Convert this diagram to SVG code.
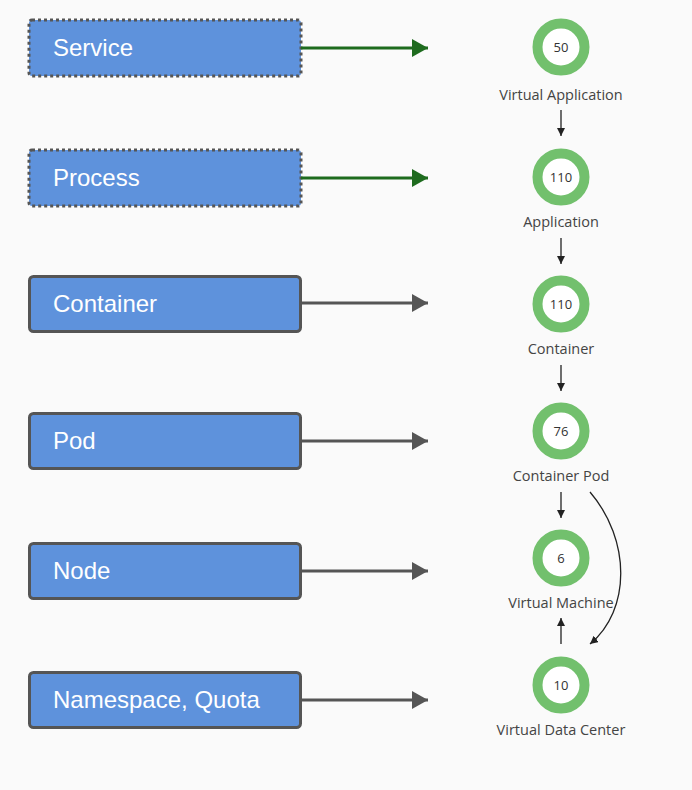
<svg xmlns="http://www.w3.org/2000/svg" width="692" height="790" viewBox="0 0 692 790">
<style>
.box{fill:#5e92dc;stroke:#555;stroke-width:3}
.dot{fill:#5e92dc;stroke:#555;stroke-width:3;stroke-dasharray:3 3}
.bt{font-family:"Liberation Sans",Arial,sans-serif;font-size:24px;fill:#fff}
.ring{fill:#fff;stroke:#72c06d;stroke-width:10}
.num{font-family:"Open Sans","DejaVu Sans",sans-serif;font-size:13px;fill:#333;text-anchor:middle}
.lbl{font-family:"Open Sans","DejaVu Sans",sans-serif;font-size:14.5px;fill:#444;text-anchor:middle}
.ga{stroke:#1e6b1e;stroke-width:3;fill:none}
.da{stroke:#555;stroke-width:3;fill:none}
.ta{stroke:#222;stroke-width:1.3;fill:none}
</style>
<defs>
<marker id="mg" markerWidth="16" markerHeight="18" refX="16" refY="9" orient="auto" markerUnits="userSpaceOnUse"><path d="M0,0 L16,9 L0,18 Z" fill="#1e6b1e"/></marker>
<marker id="md" markerWidth="16" markerHeight="18" refX="16" refY="9" orient="auto" markerUnits="userSpaceOnUse"><path d="M0,0 L16,9 L0,18 Z" fill="#555"/></marker>
<marker id="mt" markerWidth="8" markerHeight="8" refX="8" refY="4" orient="auto" markerUnits="userSpaceOnUse"><path d="M0,0 L8,4 L0,8 Z" fill="#222"/></marker>
</defs>
<rect width="692" height="790" fill="#fafafa"/>
<g id="service"><rect class="dot" x="29" y="20" width="272" height="56" rx="3"/><text class="bt" x="53" y="56">Service</text></g>
<g id="process"><rect class="dot" x="29" y="150" width="272" height="56" rx="3"/><text class="bt" x="53" y="186">Process</text></g>
<g id="container"><rect class="box" x="29.5" y="276.5" width="271" height="55" rx="4"/><text class="bt" x="53" y="312">Container</text></g>
<g id="pod"><rect class="box" x="29.5" y="413.5" width="271" height="55" rx="4"/><text class="bt" x="53" y="449">Pod</text></g>
<g id="node"><rect class="box" x="29.5" y="543.5" width="271" height="55" rx="4"/><text class="bt" x="53" y="579">Node</text></g>
<g id="namespace"><rect class="box" x="29.5" y="672.5" width="271" height="55" rx="4"/><text class="bt" x="53" y="708">Namespace, Quota</text></g>
<g id="virtual-application"><circle class="ring" cx="561" cy="47" r="23.5"/><text class="num" x="561" y="51.5">50</text><text class="lbl" x="561" y="100">Virtual Application</text></g>
<g id="application"><circle class="ring" cx="561" cy="177" r="23.5"/><text class="num" x="561" y="181.5">110</text><text class="lbl" x="561" y="227">Application</text></g>
<g id="container-r"><circle class="ring" cx="561" cy="304" r="23.5"/><text class="num" x="561" y="308.5">110</text><text class="lbl" x="561" y="354">Container</text></g>
<g id="container-pod"><circle class="ring" cx="561" cy="431" r="23.5"/><text class="num" x="561" y="435.5">76</text><text class="lbl" x="561" y="481">Container Pod</text></g>
<g id="virtual-machine"><circle class="ring" cx="561" cy="558" r="23.5"/><text class="num" x="561" y="562.5">6</text><text class="lbl" x="561" y="608">Virtual Machine</text></g>
<g id="virtual-data-center"><circle class="ring" cx="561" cy="685" r="23.5"/><text class="num" x="561" y="689.5">10</text><text class="lbl" x="561" y="735">Virtual Data Center</text></g>
<g id="connectors">
<line class="ga" x1="301" y1="48" x2="428" y2="48" marker-end="url(#mg)"/>
<line class="ga" x1="301" y1="178" x2="428" y2="178" marker-end="url(#mg)"/>
<line class="da" x1="301" y1="303" x2="428" y2="303" marker-end="url(#md)"/>
<line class="da" x1="301" y1="441" x2="428" y2="441" marker-end="url(#md)"/>
<line class="da" x1="301" y1="571" x2="428" y2="571" marker-end="url(#md)"/>
<line class="da" x1="301" y1="700" x2="428" y2="700" marker-end="url(#md)"/>
<line class="ta" x1="561" y1="110" x2="561" y2="136" marker-end="url(#mt)"/>
<line class="ta" x1="561" y1="238" x2="561" y2="264" marker-end="url(#mt)"/>
<line class="ta" x1="561" y1="365" x2="561" y2="391" marker-end="url(#mt)"/>
<line class="ta" x1="561" y1="492" x2="561" y2="518" marker-end="url(#mt)"/>
<line class="ta" x1="561" y1="644" x2="561" y2="618" marker-end="url(#mt)"/>
<path class="ta" d="M590 492 C631 540 631 610 590 644" marker-end="url(#mt)"/>
</g>
</svg>
